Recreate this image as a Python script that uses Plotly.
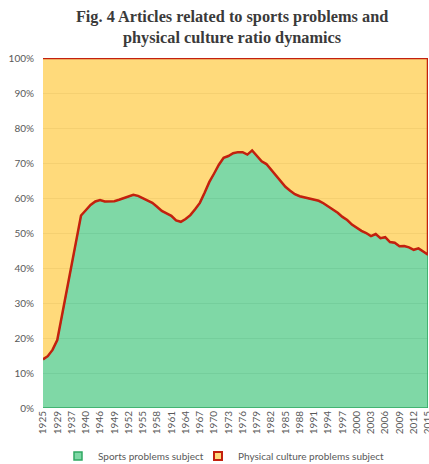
import plotly.graph_objects as go

years = ["1925", "1926", "1927", "1929", "1930", "1935", "1937", "1938", "1939", "1940", "1941", "1945"] + [str(y) for y in range(1946, 2016)]

sports = [13.9, 14.8, 16.6, 19.4, 26.5, 33.7, 40.9, 48.0, 55.0, 56.5, 58.0, 59.0,
          59.4, 59.0, 59.0, 59.1, 59.5, 60.0, 60.6, 60.9, 60.6, 59.9, 59.2, 58.6,
          57.5, 56.3, 55.6, 54.9, 53.6, 53.2, 54.0, 55.1, 56.8, 58.6, 61.5, 64.6,
          67.0, 69.5, 71.5, 72.0, 72.8, 73.1, 73.1, 72.4, 73.6, 72.2, 70.5, 69.7,
          68.0, 66.6, 64.8, 63.2, 62.1, 61.1, 60.5, 60.2, 60.0, 59.7, 59.2, 58.5,
          57.6, 56.6, 55.8, 54.6, 53.7, 52.4, 51.5, 50.6, 50.0, 49.1, 49.7, 48.5,
          48.8, 47.4, 47.2, 46.2, 46.3, 45.9, 45.2, 45.6, 44.7, 43.8]
physical = [round(100 - s, 1) for s in sports]

series_names = ["Sports problems subject", "Physical culture problems subject"]
tick_labels = years[::3]

top = [s + p for s, p in zip(sports, physical)]
zeros = [0] * len(sports)

GREEN_FILL = "rgba(113,212,156,0.9)"
YELLOW_FILL = "rgba(255,214,109,0.9)"
RED = "#C3200E"
GREEN_LINE = "#2FA862"

fig = go.Figure()
fig.add_trace(go.Scatter(
    x=years + years[::-1], y=sports + zeros[::-1], fill="toself",
    fillcolor=GREEN_FILL, mode="lines", line=dict(color=GREEN_LINE, width=1.5),
    showlegend=False, hoverinfo="skip"))
fig.add_trace(go.Scatter(
    x=years + years[::-1], y=sports + top[::-1], fill="toself",
    fillcolor=YELLOW_FILL, mode="lines", line=dict(color=RED, width=2.5),
    showlegend=False, hoverinfo="skip"))

fig.add_trace(go.Scatter(x=[None], y=[None], mode="markers", name=series_names[0],
                         legend="legend",
                         marker=dict(symbol="square", size=8, color="#7FD8A6",
                                     line=dict(color=GREEN_LINE, width=1.5))))
fig.add_trace(go.Scatter(x=[None], y=[None], mode="markers", name=series_names[1],
                         legend="legend2",
                         marker=dict(symbol="square", size=8, color="#FFDA7C",
                                     line=dict(color=RED, width=2))))

legend_common = dict(orientation="h", xref="container", xanchor="left",
                     y=0.017, yref="container", yanchor="middle",
                     font=dict(size=10, color="#595959"), itemwidth=30,
                     bgcolor="rgba(0,0,0,0)")

fig.update_layout(
    width=429, height=464,
    margin=dict(l=43, r=1, t=58, b=56, autoexpand=False),
    paper_bgcolor="white", plot_bgcolor="white",
    title=dict(text="Fig. 4 Articles related to sports problems and<br>physical culture ratio dynamics",
               x=0.541, xanchor="center", y=0.952, yanchor="middle",
               font=dict(family="Liberation Serif", size=16.3, color="#3a3a3a", weight="bold")),
    font=dict(family="Lato", size=10, color="#595959"),
    legend=dict(x=58 / 429, **legend_common),
    legend2=dict(x=198 / 429, **legend_common),
    xaxis=dict(type="category", categoryorder="array", categoryarray=years,
               range=[0, len(years) - 1], tickmode="array", tickvals=tick_labels,
               ticktext=tick_labels, tickangle=-90, showgrid=False, zeroline=False,
               showline=False, ticks="", automargin=False,
               tickfont=dict(size=10, color="#595959")),
    yaxis=dict(range=[0, 100], dtick=10, ticksuffix="%", showgrid=True,
               gridcolor="#9a9a9a", gridwidth=1, zeroline=False, showline=False,
               ticks="", ticklabelstandoff=8, automargin=False,
               tickfont=dict(size=10, color="#595959")),
    hovermode=False,
)

fig.write_html("out.html")
